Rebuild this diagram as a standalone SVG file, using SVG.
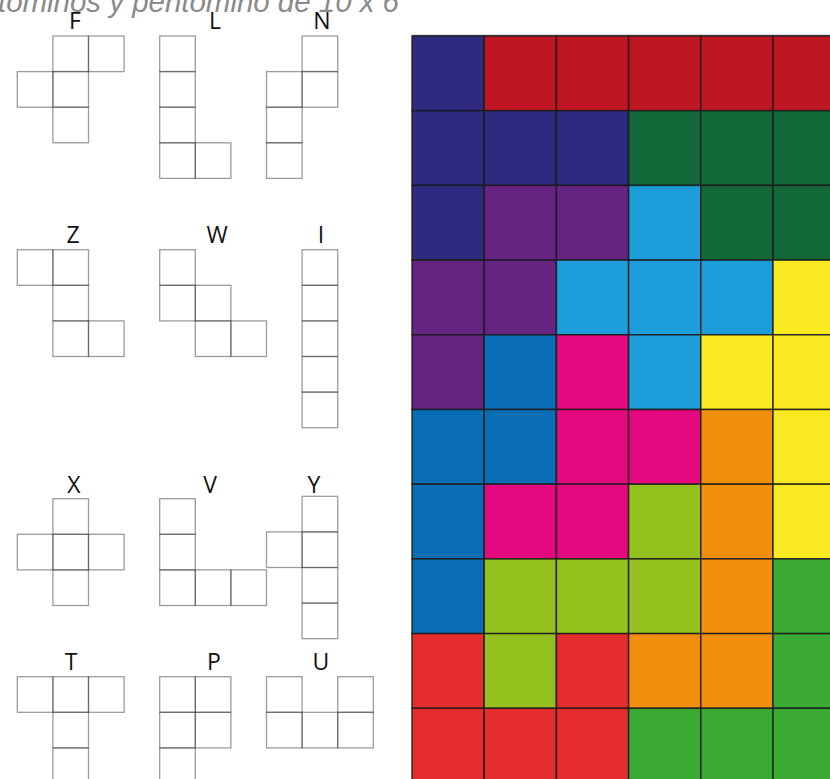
<svg xmlns="http://www.w3.org/2000/svg" width="830" height="779" viewBox="0 0 830 779">
<defs>
<style>
.title{font-family:"Liberation Sans",Arial,sans-serif;font-style:italic;font-size:29px;fill:#8a8a8a}
.lbl{font-family:"Open Sans","DejaVu Sans",sans-serif;font-size:23px;fill:#111;text-anchor:middle}
.sq{fill:none;stroke:#3a3a3a;stroke-opacity:0.5;stroke-width:1.3}
.c{stroke:#1a1a1a;stroke-opacity:0.85;stroke-width:1.5}
</style>
<rect id="u" class="sq" width="35.6" height="35.6"/>
</defs>
<rect width="830" height="779" fill="#fff"/>
<text class="title" x="-2" y="12" textLength="401" lengthAdjust="spacingAndGlyphs">tominos y pentomino de 10 x 6</text>

<g id="F">
<text class="lbl" x="75" y="29">F</text>
<use href="#u" x="52.9" y="36"/><use href="#u" x="88.5" y="36"/><use href="#u" x="17.3" y="71.6"/><use href="#u" x="52.9" y="71.6"/><use href="#u" x="52.9" y="107.2"/>
</g>
<g id="L">
<text class="lbl" x="215" y="29">L</text>
<use href="#u" x="159.7" y="36"/><use href="#u" x="159.7" y="71.6"/><use href="#u" x="159.7" y="107.2"/><use href="#u" x="159.7" y="142.8"/><use href="#u" x="195.3" y="142.8"/>
</g>
<g id="N">
<text class="lbl" x="322" y="29">N</text>
<use href="#u" x="302.1" y="36"/><use href="#u" x="266.5" y="71.6"/><use href="#u" x="302.1" y="71.6"/><use href="#u" x="266.5" y="107.2"/><use href="#u" x="266.5" y="142.8"/>
</g>

<g id="Z">
<text class="lbl" x="73" y="243">Z</text>
<use href="#u" x="17.3" y="249.7"/><use href="#u" x="52.9" y="249.7"/><use href="#u" x="52.9" y="285.3"/><use href="#u" x="52.9" y="320.9"/><use href="#u" x="88.5" y="320.9"/>
</g>
<g id="W">
<text class="lbl" x="217" y="243">W</text>
<use href="#u" x="159.7" y="249.7"/><use href="#u" x="159.7" y="285.3"/><use href="#u" x="195.3" y="285.3"/><use href="#u" x="195.3" y="320.9"/><use href="#u" x="230.9" y="320.9"/>
</g>
<g id="I">
<text class="lbl" x="321" y="243">I</text>
<use href="#u" x="302.1" y="249.7"/><use href="#u" x="302.1" y="285.3"/><use href="#u" x="302.1" y="320.9"/><use href="#u" x="302.1" y="356.5"/><use href="#u" x="302.1" y="392.1"/>
</g>

<g id="X">
<text class="lbl" x="74" y="493">X</text>
<use href="#u" x="52.9" y="498.7"/><use href="#u" x="17.3" y="534.3"/><use href="#u" x="52.9" y="534.3"/><use href="#u" x="88.5" y="534.3"/><use href="#u" x="52.9" y="569.9"/>
</g>
<g id="V">
<text class="lbl" x="210" y="493">V</text>
<use href="#u" x="159.7" y="498.7"/><use href="#u" x="159.7" y="534.3"/><use href="#u" x="159.7" y="569.9"/><use href="#u" x="195.3" y="569.9"/><use href="#u" x="230.9" y="569.9"/>
</g>
<g id="Y">
<text class="lbl" x="314" y="493">Y</text>
<use href="#u" x="302.1" y="496.3"/><use href="#u" x="266.5" y="531.9"/><use href="#u" x="302.1" y="531.9"/><use href="#u" x="302.1" y="567.5"/><use href="#u" x="302.1" y="603.1"/>
</g>

<g id="T">
<text class="lbl" x="71" y="670">T</text>
<use href="#u" x="17.3" y="676.7"/><use href="#u" x="52.9" y="676.7"/><use href="#u" x="88.5" y="676.7"/><use href="#u" x="52.9" y="712.3"/><use href="#u" x="52.9" y="747.9"/>
</g>
<g id="P">
<text class="lbl" x="214" y="670">P</text>
<use href="#u" x="159.7" y="676.7"/><use href="#u" x="195.3" y="676.7"/><use href="#u" x="159.7" y="712.3"/><use href="#u" x="195.3" y="712.3"/><use href="#u" x="159.7" y="747.9"/>
</g>
<g id="U">
<text class="lbl" x="321" y="670">U</text>
<use href="#u" x="266.5" y="676.7"/><use href="#u" x="337.7" y="676.7"/><use href="#u" x="266.5" y="712.3"/><use href="#u" x="302.1" y="712.3"/><use href="#u" x="337.7" y="712.3"/>
</g>

<g id="board">
<line x1="412" y1="35.5" x2="830" y2="35.5" stroke="#777" stroke-width="1.5"/>
<rect class="c" x="412" y="36" width="72.2" height="74.7" fill="#2E2A7F"/>
<rect class="c" x="484.2" y="36" width="72.2" height="74.7" fill="#BE1622"/>
<rect class="c" x="556.4" y="36" width="72.2" height="74.7" fill="#BE1622"/>
<rect class="c" x="628.6" y="36" width="72.2" height="74.7" fill="#BE1622"/>
<rect class="c" x="700.8" y="36" width="72.2" height="74.7" fill="#BE1622"/>
<rect class="c" x="773" y="36" width="72.2" height="74.7" fill="#BE1622"/>
<rect class="c" x="412" y="110.7" width="72.2" height="74.7" fill="#2E2A7F"/>
<rect class="c" x="484.2" y="110.7" width="72.2" height="74.7" fill="#2E2A7F"/>
<rect class="c" x="556.4" y="110.7" width="72.2" height="74.7" fill="#2E2A7F"/>
<rect class="c" x="628.6" y="110.7" width="72.2" height="74.7" fill="#136939"/>
<rect class="c" x="700.8" y="110.7" width="72.2" height="74.7" fill="#136939"/>
<rect class="c" x="773" y="110.7" width="72.2" height="74.7" fill="#136939"/>
<rect class="c" x="412" y="185.4" width="72.2" height="74.7" fill="#2E2A7F"/>
<rect class="c" x="484.2" y="185.4" width="72.2" height="74.7" fill="#662482"/>
<rect class="c" x="556.4" y="185.4" width="72.2" height="74.7" fill="#662482"/>
<rect class="c" x="628.6" y="185.4" width="72.2" height="74.7" fill="#1D9DD9"/>
<rect class="c" x="700.8" y="185.4" width="72.2" height="74.7" fill="#136939"/>
<rect class="c" x="773" y="185.4" width="72.2" height="74.7" fill="#136939"/>
<rect class="c" x="412" y="260.1" width="72.2" height="74.7" fill="#662482"/>
<rect class="c" x="484.2" y="260.1" width="72.2" height="74.7" fill="#662482"/>
<rect class="c" x="556.4" y="260.1" width="72.2" height="74.7" fill="#1D9DD9"/>
<rect class="c" x="628.6" y="260.1" width="72.2" height="74.7" fill="#1D9DD9"/>
<rect class="c" x="700.8" y="260.1" width="72.2" height="74.7" fill="#1D9DD9"/>
<rect class="c" x="773" y="260.1" width="72.2" height="74.7" fill="#F9E921"/>
<rect class="c" x="412" y="334.8" width="72.2" height="74.7" fill="#662482"/>
<rect class="c" x="484.2" y="334.8" width="72.2" height="74.7" fill="#0A6EB4"/>
<rect class="c" x="556.4" y="334.8" width="72.2" height="74.7" fill="#E5097F"/>
<rect class="c" x="628.6" y="334.8" width="72.2" height="74.7" fill="#1D9DD9"/>
<rect class="c" x="700.8" y="334.8" width="72.2" height="74.7" fill="#F9E921"/>
<rect class="c" x="773" y="334.8" width="72.2" height="74.7" fill="#F9E921"/>
<rect class="c" x="412" y="409.5" width="72.2" height="74.7" fill="#0A6EB4"/>
<rect class="c" x="484.2" y="409.5" width="72.2" height="74.7" fill="#0A6EB4"/>
<rect class="c" x="556.4" y="409.5" width="72.2" height="74.7" fill="#E5097F"/>
<rect class="c" x="628.6" y="409.5" width="72.2" height="74.7" fill="#E5097F"/>
<rect class="c" x="700.8" y="409.5" width="72.2" height="74.7" fill="#F18F0B"/>
<rect class="c" x="773" y="409.5" width="72.2" height="74.7" fill="#F9E921"/>
<rect class="c" x="412" y="484.2" width="72.2" height="74.7" fill="#0A6EB4"/>
<rect class="c" x="484.2" y="484.2" width="72.2" height="74.7" fill="#E5097F"/>
<rect class="c" x="556.4" y="484.2" width="72.2" height="74.7" fill="#E5097F"/>
<rect class="c" x="628.6" y="484.2" width="72.2" height="74.7" fill="#95C11F"/>
<rect class="c" x="700.8" y="484.2" width="72.2" height="74.7" fill="#F18F0B"/>
<rect class="c" x="773" y="484.2" width="72.2" height="74.7" fill="#F9E921"/>
<rect class="c" x="412" y="558.9" width="72.2" height="74.7" fill="#0A6EB4"/>
<rect class="c" x="484.2" y="558.9" width="72.2" height="74.7" fill="#95C11F"/>
<rect class="c" x="556.4" y="558.9" width="72.2" height="74.7" fill="#95C11F"/>
<rect class="c" x="628.6" y="558.9" width="72.2" height="74.7" fill="#95C11F"/>
<rect class="c" x="700.8" y="558.9" width="72.2" height="74.7" fill="#F18F0B"/>
<rect class="c" x="773" y="558.9" width="72.2" height="74.7" fill="#3AAA35"/>
<rect class="c" x="412" y="633.6" width="72.2" height="74.7" fill="#E52D2E"/>
<rect class="c" x="484.2" y="633.6" width="72.2" height="74.7" fill="#95C11F"/>
<rect class="c" x="556.4" y="633.6" width="72.2" height="74.7" fill="#E52D2E"/>
<rect class="c" x="628.6" y="633.6" width="72.2" height="74.7" fill="#F18F0B"/>
<rect class="c" x="700.8" y="633.6" width="72.2" height="74.7" fill="#F18F0B"/>
<rect class="c" x="773" y="633.6" width="72.2" height="74.7" fill="#3AAA35"/>
<rect class="c" x="412" y="708.3" width="72.2" height="74.7" fill="#E52D2E"/>
<rect class="c" x="484.2" y="708.3" width="72.2" height="74.7" fill="#E52D2E"/>
<rect class="c" x="556.4" y="708.3" width="72.2" height="74.7" fill="#E52D2E"/>
<rect class="c" x="628.6" y="708.3" width="72.2" height="74.7" fill="#3AAA35"/>
<rect class="c" x="700.8" y="708.3" width="72.2" height="74.7" fill="#3AAA35"/>
<rect class="c" x="773" y="708.3" width="72.2" height="74.7" fill="#3AAA35"/>
</g>
</svg>
